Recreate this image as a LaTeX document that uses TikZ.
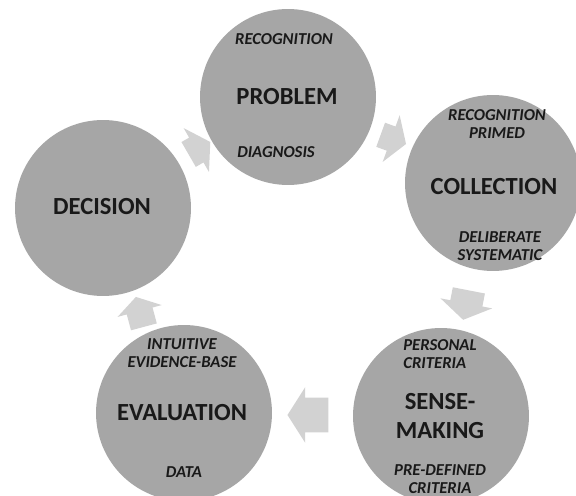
\documentclass[tikz,border=0pt]{standalone}
\usepackage{fontspec}
\setmainfont{Carlito}
\usepackage{tikz}
\usepackage{xcolor}
\usetikzlibrary{shapes.arrows}

\definecolor{kreisgrau}{HTML}{A6A6A6}
\definecolor{pfeilgrau}{HTML}{D2D2D2}

\tikzset{
	kreis/.style={circle, fill=kreisgrau, minimum size=3.52cm, inner sep=0pt},
	titel/.style={font=\fontsize{14}{16}\selectfont\bfseries, text=black!90, align=center, inner sep=0pt},
	klein/.style={font=\fontsize{9.5}{10}\selectfont\bfseries\itshape, text=black!90, align=center, inner sep=0pt},
	pfeil/.style={single arrow, fill=pfeilgrau, inner xsep=0pt, single arrow tip angle=115}
}

\begin{document}
\begin{tikzpicture}[x=0.02cm, y=-0.02cm]
	\useasboundingbox (0,0) rectangle (576,496);
	% die kreise
	\node[kreis] (decision) at (103,208) {};
	\node[kreis] (problem) at (288,97) {};
	\node[kreis] (collection) at (493,183) {};
	\node[kreis] (sensemaking) at (441,416) {};
	\node[kreis] (evaluation) at (184,413) {};
	% die pfeile
	\node[pfeil, rotate=30, minimum height=0.5cm, inner ysep=0.28cm,
		single arrow head extend=0.22cm, minimum width=1.0cm] (pfeila) at (195.5,150.5) {};
	\node[pfeil, rotate=-20, minimum height=0.54cm, inner ysep=0.25cm,
		single arrow head extend=0.24cm, minimum width=0.98cm] (pfeilb) at (389.5,138) {};
	\node[pfeil, rotate=-101, minimum height=0.6cm, inner ysep=0.32cm,
		single arrow head extend=0.2cm, minimum width=1.04cm] (pfeilc) at (467,300) {};
	\node[pfeil, rotate=180, minimum height=0.82cm, inner ysep=0.34cm,
		single arrow head extend=0.21cm, minimum width=1.1cm] (pfeild) at (313.5,415) {};
	\node[pfeil, rotate=105, minimum height=0.62cm, inner ysep=0.26cm,
		single arrow head extend=0.19cm, minimum width=0.9cm] (pfeile) at (141,316) {};
	% beschriftung decision
	\node[titel] (dectitel) at (102,207) {DECISION};
	% beschriftung problem
	\node[klein] (probrec) at (284,39) {RECOGNITION};
	\node[titel] (probtitel) at (287,97) {PROBLEM};
	\node[klein] (probdiag) at (276,152) {DIAGNOSIS};
	% beschriftung collection
	\node[klein] (colrec) at (497,124) {RECOGNITION\\PRIMED};
	\node[titel] (coltitel) at (494,187) {COLLECTION};
	\node[klein] (coldel) at (500,246) {DELIBERATE\\SYSTEMATIC};
	% beschriftung sense-making
	\node[klein, align=left, anchor=west] (senspers) at (403,354) {PERSONAL\\CRITERIA};
	\node[titel] (senstitel) at (440,416) {SENSE-\\MAKING};
	\node[klein] (senspre) at (440,479) {PRE-DEFINED\\CRITERIA};
	% beschriftung evaluation
	\node[klein] (evalint) at (182,353) {INTUITIVE\\EVIDENCE-BASE};
	\node[titel] (evaltitel) at (182,413) {EVALUATION};
	\node[klein] (evaldata) at (184,472) {DATA};
\end{tikzpicture}
\end{document}
